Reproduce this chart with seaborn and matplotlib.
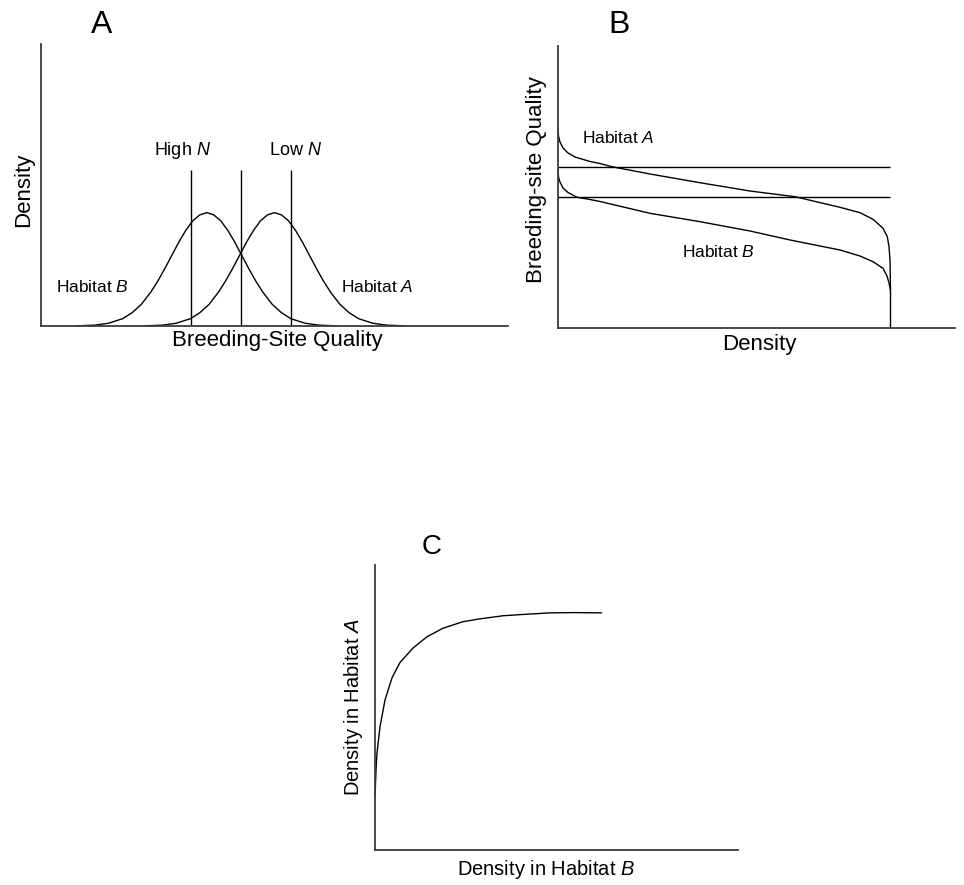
import matplotlib
matplotlib.use("Agg")
import matplotlib.pyplot as plt
import seaborn as sns

sns.set_style("white")
plt.rcParams['font.family'] = ['Liberation Sans', 'DejaVu Sans']
plt.rcParams['mathtext.fontset'] = 'custom'
plt.rcParams['mathtext.rm'] = 'Liberation Sans'
plt.rcParams['mathtext.it'] = 'Liberation Sans:italic'
plt.rcParams['text.color'] = 'black'
plt.rcParams['axes.labelcolor'] = 'black'

# ---------------- Panel A data ----------------
quality_habB = [7.5, 11.5, 14.5, 17.5, 19.5, 21.5, 23.5, 25, 26.5, 28, 29.5, 31, 32.5, 34, 35.5,
                37, 38.5, 40, 41.5, 43, 44.5, 46, 47.5, 49.5, 51.5, 53.5, 56.5, 59.5, 63.5]
density_habB = [0.05, 0.3, 1.0, 2.6, 4.7, 7.7, 12.0, 15.9, 20.3, 25.0, 29.7, 33.9, 37.3, 39.4, 40.2,
                39.4, 37.3, 33.9, 29.7, 25.0, 20.3, 15.9, 12.0, 7.7, 4.7, 2.6, 1.0, 0.3, 0.05]
quality_habA = [22, 26, 29, 32, 34, 36, 38, 39.5, 41, 42.5, 44, 45.5, 47, 48.5, 50,
                51.5, 53, 54.5, 56, 57.5, 59, 60.5, 62, 64, 66, 68, 71, 74, 78]
density_habA = [0.05, 0.3, 1.0, 2.6, 4.7, 7.7, 12.0, 15.9, 20.3, 25.0, 29.7, 33.9, 37.3, 39.4, 40.2,
                39.4, 37.3, 33.9, 29.7, 25.0, 20.3, 15.9, 12.0, 7.7, 4.7, 2.6, 1.0, 0.3, 0.05]
threshold_quality = [32.1, 42.8, 53.5]
threshold_top = 55.3

# ---------------- Panel B data ----------------
densB_habA = [0, 0.13, 0.50, 1.26, 2.52, 4.28, 8.06, 10.58, 13.53, 23.17, 35.77, 48.36, 59.70,
              71.03, 76.07, 79.35, 81.86, 82.95, 83.38, 83.63, 83.75, 83.75]
qualB_habA = [70.92, 68.09, 65.96, 63.83, 62.06, 60.64, 59.04, 58.33, 57.20, 54.61, 51.52, 48.58, 46.56,
              42.80, 40.89, 38.55, 35.35, 32.38, 28.83, 24.11, 13.48, 0]
densB_habB = [0, 0.13, 0.50, 1.26, 2.52, 4.79, 8.06, 10.58, 23.17, 35.77, 48.36, 58.44, 71.03,
              76.07, 79.35, 81.86, 82.87, 83.38, 83.75]
qualB_habB = [56.03, 53.55, 51.77, 49.65, 48.05, 46.35, 45.57, 44.86, 40.67, 37.70, 34.40, 31.21, 27.66,
              25.53, 23.51, 21.17, 18.44, 15.96, 13.48]
hline_quality = [57.2, 46.35]
hline_end = 83.75

# ---------------- Panel C data ----------------
densC_habB = [0, 0.28, 0.55, 1.38, 2.75, 4.68, 6.89, 10.5, 14.3, 18.7, 24.2, 28.9, 35.3, 42.7, 48.2, 55.1, 62.4]
densC_habA = [18.6, 28.1, 34.0, 43.3, 52.6, 60.4, 65.8, 70.9, 74.8, 77.8, 80.1, 81.1, 82.2, 82.8, 83.2, 83.3, 83.2]

W, H = 964, 885
fig = plt.figure(figsize=(W / 100, H / 100), dpi=100)


def px_axes(x0, y0, x1, y1):
    return fig.add_axes([x0 / W, 1 - y1 / H, (x1 - x0) / W, (y1 - y0) / H])


def style(ax):
    ax.set_xlim(0, 100)
    ax.set_ylim(0, 100)
    ax.set_xticks([])
    ax.set_yticks([])
    sns.despine(ax=ax)
    for s in ['left', 'bottom']:
        ax.spines[s].set_color('#3a3a3a')
        ax.spines[s].set_linewidth(1.3)


def axis_label(ax, txt, x, y, size, rot=0):
    ax.text(x, y, txt, transform=ax.transAxes, fontsize=size, ha='center', va='center',
            rotation=rot, color='black')


lw = 1.0
kw = dict(color='black', linewidth=lw, sort=False, estimator=None)

# Panel A
axA = px_axes(41, 44, 508, 326)
style(axA)
sns.lineplot(x=quality_habB, y=density_habB, ax=axA, **kw)
sns.lineplot(x=quality_habA, y=density_habA, ax=axA, **kw)
axA.vlines(threshold_quality, 0, threshold_top, color='black', linewidth=lw)
axA.text(30.2, 62.4, r"High $\mathit{N}$", fontsize=13, ha='center', va='center')
axA.text(54.6, 62.4, r"Low $\mathit{N}$", fontsize=13, ha='center', va='center')
axA.text(11.0, 13.8, r"Habitat $\mathit{B}$", fontsize=12.5, ha='center', va='center')
axA.text(72.0, 13.8, r"Habitat $\mathit{A}$", fontsize=12.5, ha='center', va='center')
axis_label(axA, "Breeding-Site Quality", 0.505, -0.053, 16)
axis_label(axA, "Density", -0.0364, 0.484, 16, 90)

# Panel B
axB = px_axes(558, 46, 955, 328)
style(axB)
sns.lineplot(x=densB_habA, y=qualB_habA, ax=axB, **kw)
sns.lineplot(x=densB_habB, y=qualB_habB, ax=axB, **kw)
axB.hlines(hline_quality, 0, hline_end, color='black', linewidth=lw)
axB.text(15.1, 67.4, r"Habitat $\mathit{A}$", fontsize=12.5, ha='center', va='center')
axB.text(40.3, 27.1, r"Habitat $\mathit{B}$", fontsize=12.5, ha='center', va='center')
axis_label(axB, "Density", 0.508, -0.057, 16)
axis_label(axB, "Breeding-site Quality", -0.053, 0.525, 16, 90)

# Panel C
axC = px_axes(375, 565, 738, 850)
style(axC)
sns.lineplot(x=densC_habB, y=densC_habA, ax=axC, **kw)
axis_label(axC, r"Density in Habitat $\mathit{B}$", 0.471, -0.070, 14.5)
axis_label(axC, r"Density in Habitat $\mathit{A}$", -0.058, 0.502, 14.5, 90)

# Panel letters
fig.text(102 / W, 1 - 25 / H, "A", fontsize=23, ha='center', va='center')
fig.text(619 / W, 1 - 25 / H, "B", fontsize=23, ha='center', va='center')
fig.text(432 / W, 1 - 547 / H, "C", fontsize=20, ha='center', va='center')

fig.savefig("out.png", dpi=100, facecolor='white')
